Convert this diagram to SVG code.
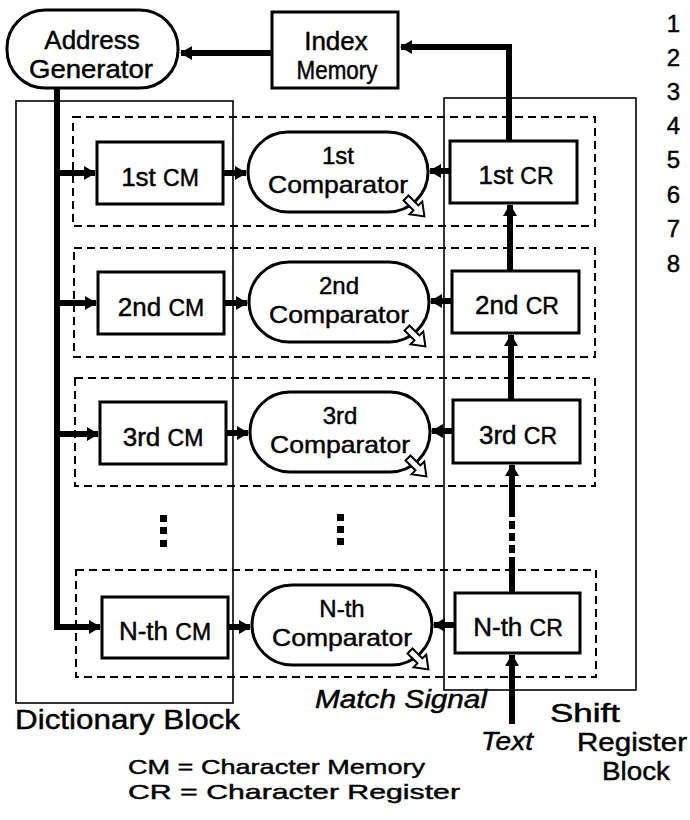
<svg xmlns="http://www.w3.org/2000/svg" width="690" height="820" viewBox="0 0 690 820">
<style>
text{font-family:"Liberation Sans",Arial,Helvetica,sans-serif;fill:#000;stroke:#000;stroke-width:0.45}
.t{font-size:26px;text-anchor:middle}
.c{font-size:24px;text-anchor:middle}
.s{font-size:23px}
.box{fill:#fff;stroke:#000;stroke-width:3}
.blk{fill:none;stroke:#000;stroke-width:1.6}
.row{fill:none;stroke:#000;stroke-width:2;stroke-dasharray:8 5}
.w{fill:none;stroke:#000;stroke-width:6}
.it{font-style:italic;font-size:25px}
.num{font-size:24px;text-anchor:end}
</style>
<defs>
<marker id="ah" markerUnits="userSpaceOnUse" markerWidth="14" markerHeight="14" refX="11" refY="7" orient="auto">
<path d="M0,0 L12,7 L0,14 z" fill="#000"/>
</marker>
<g id="ms">
<path d="M0,-3.5 L14,-3.5 L14,-9 L26,0 L14,9 L14,3.5 L0,3.5 z" fill="#fff" stroke="#000" stroke-width="2"/>
</g>
</defs>

<!-- blocks -->
<g id="dictionary-block">
<rect class="blk" x="16" y="101" width="217" height="602"/>
<text x="15" y="729" font-size="27" textLength="225" lengthAdjust="spacingAndGlyphs">Dictionary Block</text>
</g>
<g id="shift-register-block">
<rect class="blk" x="444" y="98" width="192" height="592"/>
<text x="550" y="722" font-size="25" textLength="70" lengthAdjust="spacingAndGlyphs">Shift</text>
<text x="577" y="751" font-size="25" textLength="110" lengthAdjust="spacingAndGlyphs">Register</text>
<text x="602" y="780" font-size="25" textLength="68" lengthAdjust="spacingAndGlyphs">Block</text>
</g>

<!-- row dashed frames -->
<g id="rows">
<rect class="row" x="73" y="117" width="522" height="109"/>
<rect class="row" x="74" y="248" width="521" height="109"/>
<rect class="row" x="75" y="378" width="520" height="108"/>
<rect class="row" x="76" y="570" width="520" height="107"/>
</g>

<g id="address-generator">
<rect class="box" x="7" y="10" width="171" height="78" rx="38" ry="38"/>
<text class="t" x="92" y="49" font-size="25">Address</text>
<text class="t" x="91" y="78" font-size="25" textLength="124" lengthAdjust="spacingAndGlyphs">Generator</text>
</g>
<g id="index-memory">
<rect class="box" x="272" y="12" width="126" height="76"/>
<text class="t" x="336" y="50" font-size="25">Index</text>
<text class="t" x="337" y="79" font-size="25" textLength="81" lengthAdjust="spacingAndGlyphs">Memory</text>
</g>

<!-- CM nodes -->
<g id="cm1"><rect class="box" x="97" y="142" width="126" height="62"/><text class="t" x="160" y="186">1st <tspan class="s">CM</tspan></text></g>
<g id="cm2"><rect class="box" x="98" y="272" width="126" height="62"/><text class="t" x="161" y="316">2nd <tspan class="s">CM</tspan></text></g>
<g id="cm3"><rect class="box" x="100" y="402" width="126" height="62"/><text class="t" x="163" y="446">3rd <tspan class="s">CM</tspan></text></g>
<g id="cmN"><rect class="box" x="102" y="597" width="126" height="61"/><text class="t" x="165" y="640">N-th <tspan class="s">CM</tspan></text></g>

<!-- Comparators -->
<g id="comp1"><rect class="box" x="248" y="132" width="180" height="80" rx="40" ry="40"/><text class="c" x="338" y="164">1st</text><text class="c" x="338" y="193" textLength="140" lengthAdjust="spacingAndGlyphs">Comparator</text><use href="#ms" transform="translate(406,198) rotate(45)"/></g>
<g id="comp2"><rect class="box" x="249" y="262" width="180" height="80" rx="40" ry="40"/><text class="c" x="339" y="294">2nd</text><text class="c" x="339" y="323" textLength="140" lengthAdjust="spacingAndGlyphs">Comparator</text><use href="#ms" transform="translate(407,328) rotate(45)"/></g>
<g id="comp3"><rect class="box" x="250" y="392" width="180" height="80" rx="40" ry="40"/><text class="c" x="340" y="424">3rd</text><text class="c" x="340" y="453" textLength="140" lengthAdjust="spacingAndGlyphs">Comparator</text><use href="#ms" transform="translate(408,458) rotate(45)"/></g>
<g id="compN"><rect class="box" x="252" y="585" width="180" height="80" rx="40" ry="40"/><text class="c" x="342" y="617">N-th</text><text class="c" x="342" y="646" textLength="140" lengthAdjust="spacingAndGlyphs">Comparator</text><use href="#ms" transform="translate(410,651) rotate(45)"/></g>

<!-- CR nodes -->
<g id="cr1"><rect class="box" x="450" y="141" width="127" height="62"/><text class="t" x="516" y="184">1st <tspan class="s">CR</tspan></text></g>
<g id="cr2"><rect class="box" x="452" y="271" width="127" height="62"/><text class="t" x="517" y="314">2nd <tspan class="s">CR</tspan></text></g>
<g id="cr3"><rect class="box" x="453" y="400" width="127" height="63"/><text class="t" x="518" y="444">3rd <tspan class="s">CR</tspan></text></g>
<g id="crN"><rect class="box" x="455" y="593" width="125" height="60"/><text class="t" x="518" y="636">N-th <tspan class="s">CR</tspan></text></g>

<!-- ellipsis dots -->
<g id="dots">
<rect x="160" y="515" width="7" height="7"/><rect x="160" y="527" width="7" height="7"/><rect x="160" y="540" width="7" height="7"/>
<rect x="337" y="514" width="7" height="7"/><rect x="337" y="526" width="7" height="7"/><rect x="337" y="538" width="7" height="7"/>
</g>

<!-- connectors -->
<g id="connectors">
<line class="w" x1="272" y1="53" x2="181" y2="53" marker-end="url(#ah)"/>
<path class="w" d="M509,141 L509,47 L401,47" marker-end="url(#ah)"/>
<path class="w" d="M57,88 L57,627 L100,627" marker-end="url(#ah)"/>
<line class="w" x1="57" y1="173" x2="95" y2="173" marker-end="url(#ah)"/>
<line class="w" x1="57" y1="303" x2="96" y2="303" marker-end="url(#ah)"/>
<line class="w" x1="57" y1="434" x2="98" y2="434" marker-end="url(#ah)"/>
<line class="w" x1="223" y1="173" x2="246" y2="173" stroke-width="5" marker-end="url(#ah)"/>
<line class="w" x1="224" y1="303" x2="247" y2="303" stroke-width="5" marker-end="url(#ah)"/>
<line class="w" x1="226" y1="433" x2="248" y2="433" stroke-width="5" marker-end="url(#ah)"/>
<line class="w" x1="228" y1="627" x2="250" y2="627" stroke-width="5" marker-end="url(#ah)"/>
<line class="w" x1="450" y1="171" x2="430" y2="171" stroke-width="5" marker-end="url(#ah)"/>
<line class="w" x1="452" y1="301" x2="431" y2="301" stroke-width="5" marker-end="url(#ah)"/>
<line class="w" x1="453" y1="431" x2="432" y2="431" stroke-width="5" marker-end="url(#ah)"/>
<line class="w" x1="455" y1="625" x2="434" y2="625" stroke-width="5" marker-end="url(#ah)"/>
<line class="w" x1="510" y1="271" x2="510" y2="205" marker-end="url(#ah)"/>
<line class="w" x1="511" y1="400" x2="511" y2="335" marker-end="url(#ah)"/>
<line class="w" x1="512" y1="593" x2="512" y2="465" stroke-dasharray="36 4 8 4 8 4 8 4 60" marker-end="url(#ah)"/>
<line class="w" x1="512" y1="724" x2="512" y2="655" marker-end="url(#ah)"/>
</g>

<!-- labels -->
<text class="it" x="315" y="708" textLength="172" lengthAdjust="spacingAndGlyphs">Match Signal</text>
<text class="it" x="481" y="750" textLength="52" lengthAdjust="spacingAndGlyphs">Text</text>
<text x="128" y="774" font-size="21" textLength="297" lengthAdjust="spacingAndGlyphs">CM = Character Memory</text>
<text x="128" y="799" font-size="21" textLength="332" lengthAdjust="spacingAndGlyphs">CR = Character Register</text>

<g id="line-numbers">
<text class="num" x="680" y="32">1</text>
<text class="num" x="680" y="66">2</text>
<text class="num" x="680" y="100">3</text>
<text class="num" x="680" y="134">4</text>
<text class="num" x="680" y="168">5</text>
<text class="num" x="680" y="203">6</text>
<text class="num" x="680" y="237">7</text>
<text class="num" x="680" y="272">8</text>
</g>
</svg>
